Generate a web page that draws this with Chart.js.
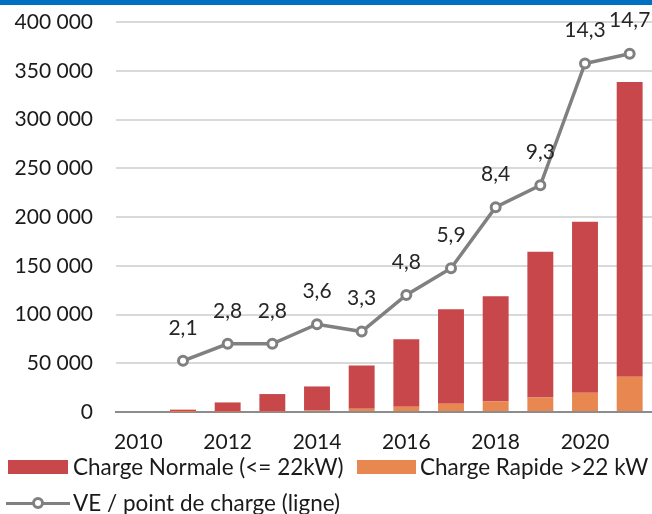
<!DOCTYPE html>
<html>
<head>
<meta charset="utf-8">
<script src="https://cdn.jsdelivr.net/npm/chart.js@4.4.1/dist/chart.umd.min.js"></script>
<style>
  body { margin: 0; overflow: hidden; background: #fff; }
  #wrap { position: relative; width: 652px; height: 514px; font-family: Lato, sans-serif; color: #1a1a1a; }
  #topbar { position: absolute; left: 0; top: 0; width: 652px; height: 5px; background: #0070C0; }
  #chart { position: absolute; left: 0; top: 0; }
  .lg { position: absolute; font-size: 22.5px; line-height: 24px; white-space: nowrap; }
  .box { position: absolute; height: 14px; }
  .lline { position: absolute; height: 3px; background: #808080; }
  .ldot { position: absolute; width: 6px; height: 6px; border: 3px solid #808080; border-radius: 50%; background: #fff; }
</style>
</head>
<body>
<div id="wrap">
  <canvas id="chart" width="652" height="514"></canvas>
  <div id="topbar"></div>
  <div class="box" style="left:8px;top:460px;width:60px;background:#C8474A"></div>
  <div class="lg" style="left:73px;top:455px">Charge Normale (&lt;= 22kW)</div>
  <div class="box" style="left:357px;top:460px;width:59px;background:#E8874F"></div>
  <div class="lg" style="left:420px;top:455px">Charge Rapide &gt;22 kW</div>
  <div class="lline" style="left:6px;top:502px;width:64px"></div>
  <div class="ldot" style="left:32px;top:497px"></div>
  <div class="lg" style="left:73px;top:491px">VE / point de charge (ligne)</div>
</div>
<script>
// Données
const annees = ['2010', '2011', '2012', '2013', '2014', '2015', '2016', '2017', '2018', '2019', '2020', '2021'];
const chargeRapide = [0, 200, 500, 700, 1500, 3400, 5400, 8500, 10800, 14900, 19700, 36100];
const chargeNormale = [0, 2200, 9300, 17700, 24700, 44300, 69300, 96900, 107900, 149400, 175400, 302300];
const vePointCharge = [null, 2.1, 2.8, 2.8, 3.6, 3.3, 4.8, 5.9, 8.4, 9.3, 14.3, 14.7];

function formatMilliers(v) {
    return String(v).replace(/\B(?=(\d{3})+(?!\d))/g, ' ');
}

// étiquettes au-dessus des points de la ligne
const pointLabels = {
    id: 'pointLabels',
    afterDatasetsDraw(chart) {
        const meta = chart.getDatasetMeta(2);
        const ctx = chart.ctx;
        ctx.save();
        ctx.font = '21px Lato';
        ctx.fillStyle = '#262626';
        ctx.textAlign = 'center';
        ctx.textBaseline = 'middle';
        meta.data.forEach((pt, i) => {
            const v = vePointCharge[i];
            if (v === null) return;
            ctx.fillText(String(v).replace('.', ','), pt.x, pt.y - 33);
        });
        ctx.restore();
    }
};

const data = {
    labels: annees,
    datasets: [{
        type: 'bar',
        label: 'Charge Rapide >22 kW',
        data: chargeRapide,
        backgroundColor: '#E8874F',
        order: 1
    }, {
        type: 'bar',
        label: 'Charge Normale (<= 22kW)',
        data: chargeNormale,
        backgroundColor: '#C8474A',
        order: 1
    }, {
        type: 'line',
        label: 'VE / point de charge (ligne)',
        data: vePointCharge,
        yAxisID: 'y1',
        borderColor: '#808080',
        borderWidth: 3.5,
        pointRadius: 4.5,
        pointBorderWidth: 3,
        pointBackgroundColor: '#fff',
        pointBorderColor: '#808080',
        tension: 0,
        order: 0
    }]
};

const config = {
    data,
    options: {
        responsive: false,
        animation: false,
        layout: { autoPadding: false, padding: { top: 22, left: 0, right: 0, bottom: 60 } },
        datasets: { bar: { categoryPercentage: 1, barPercentage: 0.58 } },
        plugins: { legend: { display: false }, tooltip: { enabled: false } },
        scales: {
            x: {
                stacked: true,
                grid: { display: false, drawTicks: false },
                border: { display: true, color: '#8C8C8C', width: 2 },
                ticks: {
                    autoSkip: false,
                    maxRotation: 0,
                    padding: 18,
                    color: '#1a1a1a',
                    font: { family: 'Lato', size: 21 },
                    callback: function (val, idx) { return idx % 2 === 0 ? annees[idx] : ''; }
                },
                afterFit: function (scale) {
                    scale.height = 42;
                    scale.paddingLeft = 0;
                    scale.paddingRight = 0;
                }
            },
            y: {
                stacked: true,
                min: 0,
                max: 400000,
                grid: {
                    drawTicks: false,
                    lineWidth: 2,
                    color: ctx => ctx.tick && ctx.tick.value === 0 ? '#8C8C8C' : '#D9D9D9'
                },
                border: { display: false },
                ticks: {
                    stepSize: 50000,
                    padding: 23,
                    color: '#1a1a1a',
                    font: { family: 'Lato', size: 21 },
                    callback: v => formatMilliers(v)
                },
                afterFit: function (scale) {
                    scale.width = 116;
                    scale.paddingTop = 0;
                    scale.paddingBottom = 0;
                }
            },
            y1: {
                display: false,
                min: 0,
                max: 16,
                stacked: false
            }
        }
    },
    plugins: [pointLabels]
};

let monGraphique = new Chart(document.getElementById('chart'), config);
</script>
</body>
</html>
